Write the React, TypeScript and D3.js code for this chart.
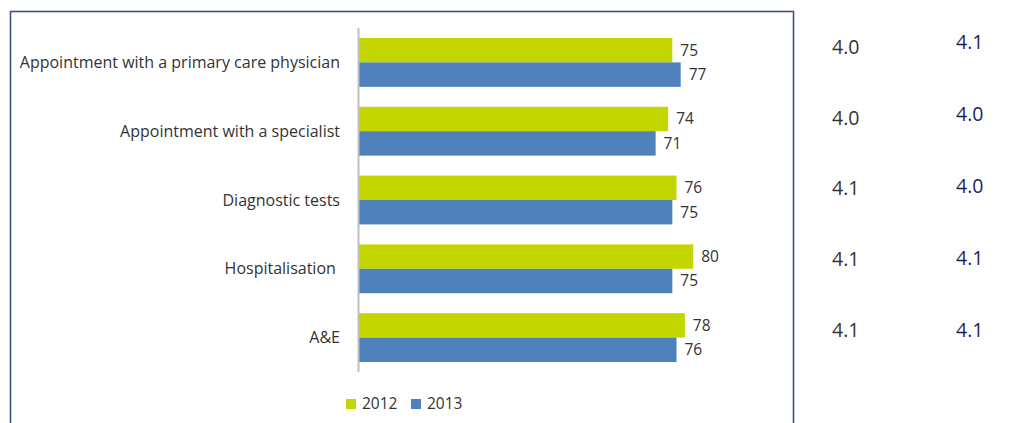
import React from "react";
import * as d3 from "d3";

const categories = [
  "Appointment with a primary care physician",
  "Appointment with a specialist",
  "Diagnostic tests",
  "Hospitalisation ",
  "A&E",
];
const seriesNames = ["2012", "2013"];
const values2012 = [75, 74, 76, 80, 78];
const values2013 = [77, 71, 75, 75, 76];
const scores2012 = ["4.0", "4.0", "4.1", "4.1", "4.1"];
const scores2013 = ["4.1", "4.0", "4.0", "4.1", "4.1"];

const W = 1026;
const H = 423;
const colors: Record<string, string> = { "2012": "#c4d600", "2013": "#4f81bd" };
const FONT = "'Open Sans', sans-serif";
const TEXT = "#333333";

export default function App() {
  const x = d3.scaleLinear().domain([0, 90]).range([359, 735]);
  const y = d3
    .scaleBand<string>()
    .domain(categories)
    .range([28, 372])
    .paddingInner(0.29)
    .paddingOuter(0.145);
  const sub = d3.scaleBand<string>().domain(seriesNames).range([0, y.bandwidth()]);
  const y1 = d3.scalePoint<string>().domain(categories).range([47, 330]);
  const y2 = d3.scalePoint<string>().domain(categories).range([42, 330]);

  const series = [
    { name: "2012", vals: values2012 },
    { name: "2013", vals: values2013 },
  ];

  return (
    <div style={{ position: "absolute", left: 0, top: 0 }}>
      <svg width={W} height={H} style={{ display: "block" }}>
        <rect x={0} y={0} width={W} height={H} fill="#ffffff" />
        <rect
          x={10.5}
          y={11.5}
          width={783}
          height={430}
          fill="none"
          stroke="#3f5479"
          strokeWidth={1.6}
        />
        {series.map((s) =>
          categories.map((c, i) => {
            const by = (y(c) as number) + (sub(s.name) as number);
            const bh = sub.bandwidth();
            return (
              <g key={s.name + c}>
                <rect
                  x={x(0)}
                  y={by}
                  width={x(s.vals[i]) - x(0)}
                  height={bh}
                  fill={colors[s.name]}
                />
                <text
                  x={x(s.vals[i]) + 8}
                  y={by + bh / 2}
                  dy="0.35em"
                  fontFamily={FONT}
                  fontSize={15.5}
                  fill={TEXT}
                >
                  {s.vals[i]}
                </text>
              </g>
            );
          })
        )}
        <line x1={358.5} x2={358.5} y1={28} y2={372} stroke="#bfbfbf" strokeWidth={2} />
        {categories.map((c) => (
          <text
            key={c}
            x={340}
            y={(y(c) as number) + y.bandwidth() / 2}
            dy="0.35em"
            textAnchor="end"
            fontFamily={FONT}
            fontSize={16}
            fill={TEXT}
            style={{ whiteSpace: "pre" }}
          >
            {c}
          </text>
        ))}
        {categories.map((c, i) => (
          <text
            key={"s1" + c}
            x={832}
            y={y1(c) as number}
            dy="0.35em"
            fontFamily={FONT}
            fontSize={19.5}
            fill={TEXT}
          >
            {scores2012[i]}
          </text>
        ))}
        {categories.map((c, i) => (
          <text
            key={"s2" + c}
            x={956}
            y={y2(c) as number}
            dy="0.35em"
            fontFamily={FONT}
            fontSize={19.5}
            fill="#1f1f5c"
          >
            {scores2013[i]}
          </text>
        ))}
        {seriesNames.map((n, i) => (
          <g key={n} transform={`translate(${346 + i * 65},399)`}>
            <rect x={0} y={0} width={10} height={10} fill={colors[n]} />
            <text x={16} y={5} dy="0.35em" fontFamily={FONT} fontSize={15.5} fill={TEXT}>
              {n}
            </text>
          </g>
        ))}
      </svg>
    </div>
  );
}
